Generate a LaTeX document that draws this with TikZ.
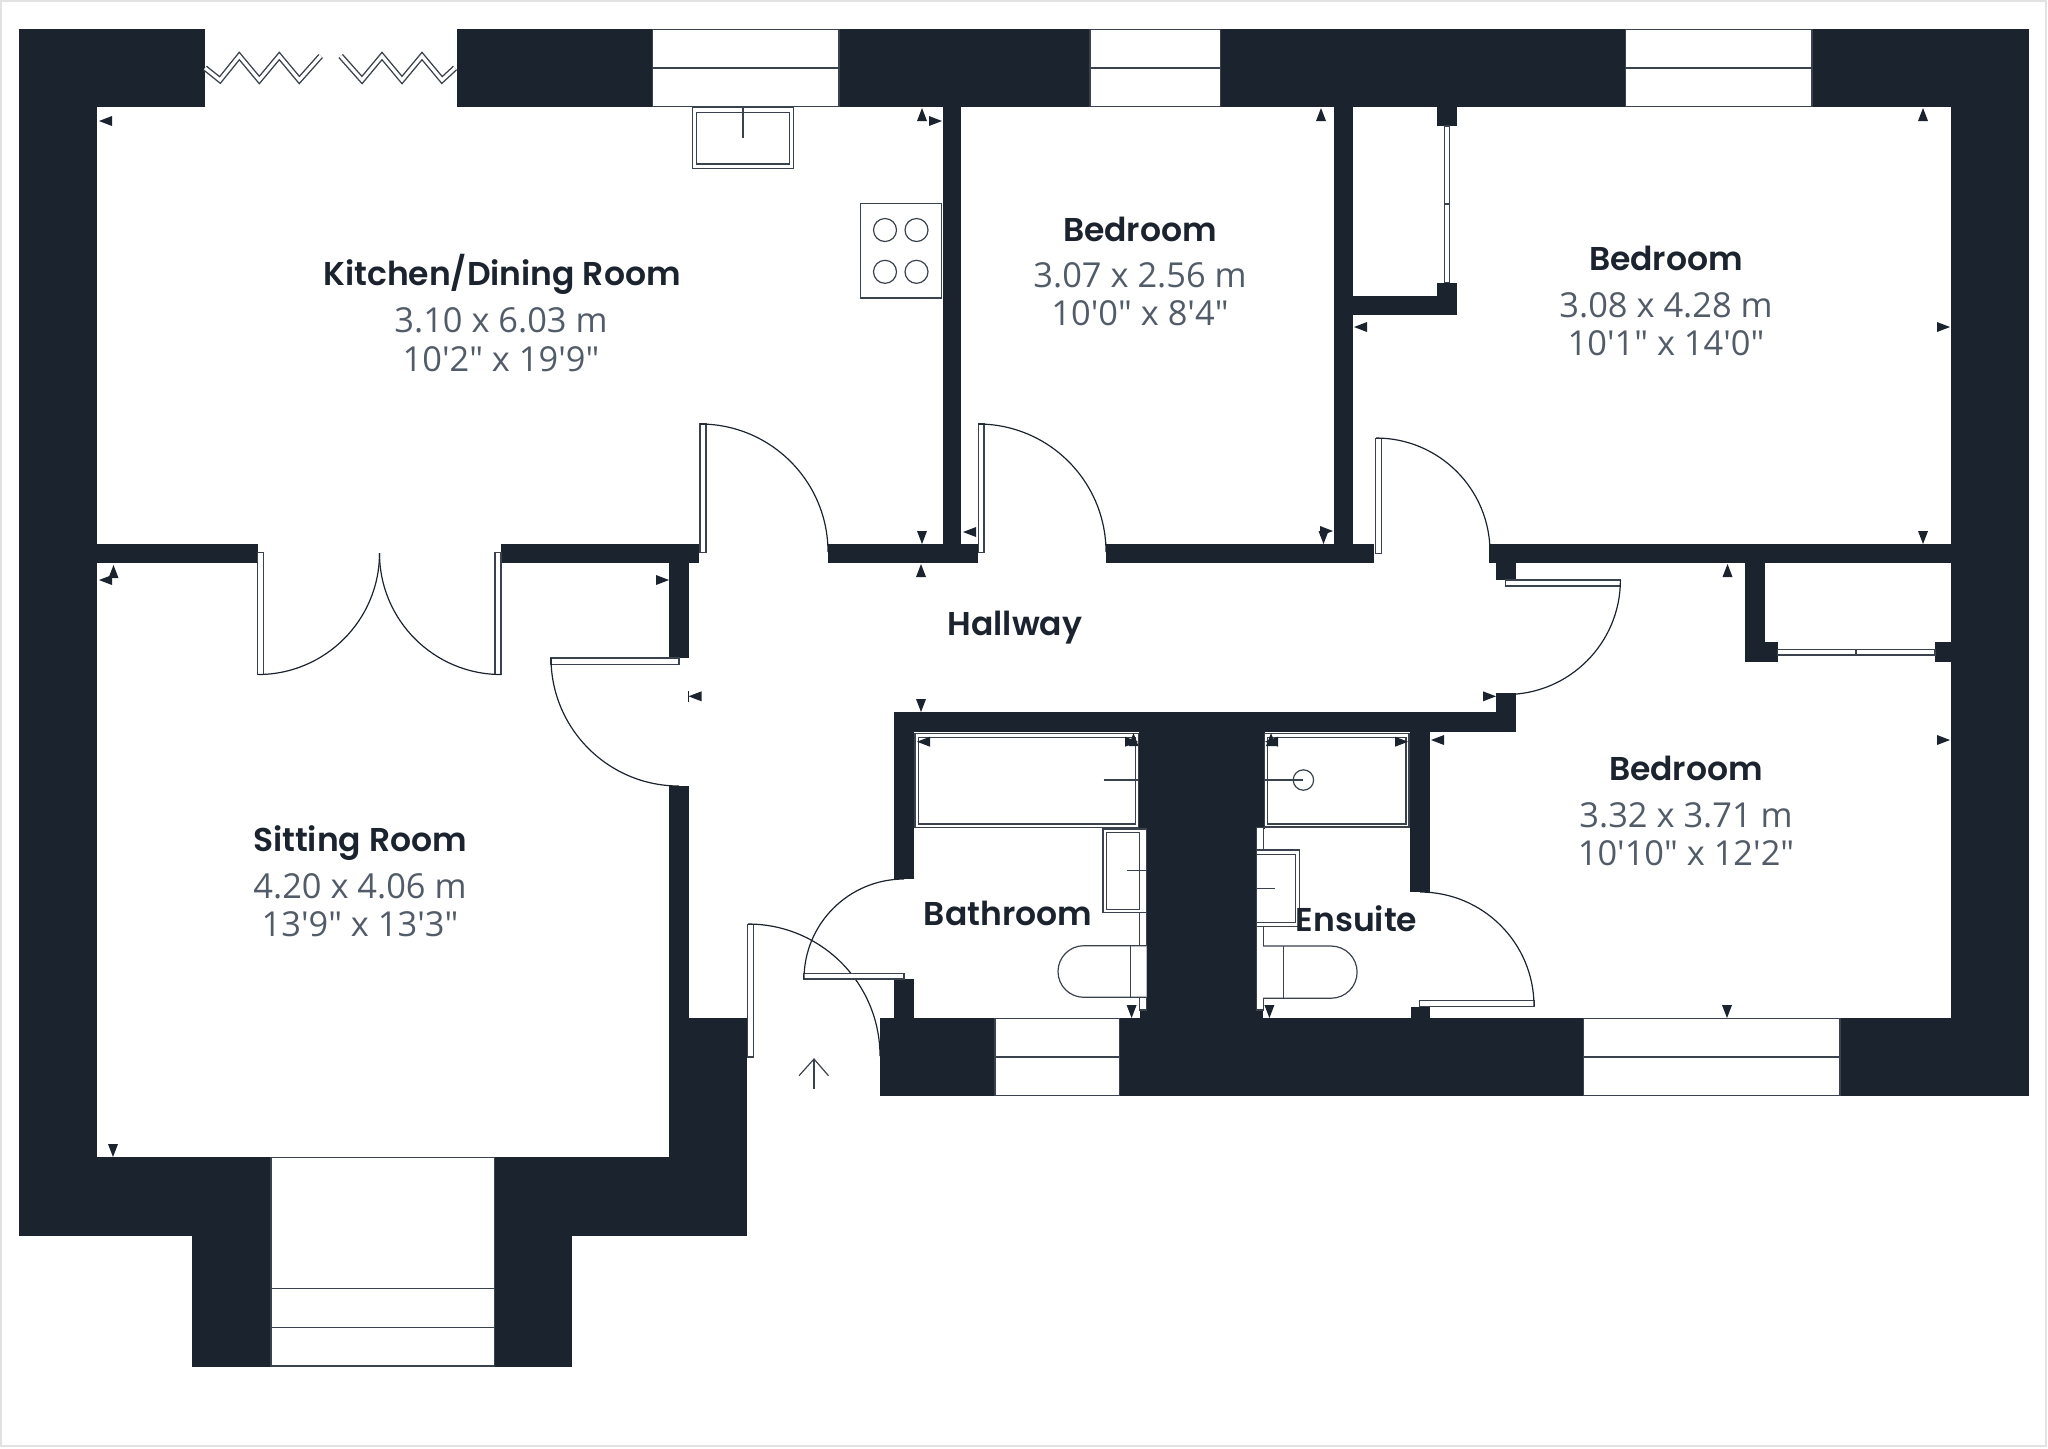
\documentclass[tikz,border=0pt]{standalone}
\usepackage{fontspec}
\usepackage{tikz}
\newfontfamily\namefont[BoldFont=Poppins SemiBold]{Poppins}
\newfontfamily\sizefont{Open Sans}
\definecolor{wallink}{HTML}{1B232E}
\definecolor{sizeink}{HTML}{525C69}
\definecolor{lineink}{HTML}{3A424D}
\definecolor{frameink}{HTML}{E2E2E2}
\newcommand{\tri}[3]{\fill[wallink, shift={(#1,#2)}, rotate=#3] (0,0) -- (13,5) -- (13,-5) -- cycle;}

\begin{document}
\begin{tikzpicture}[x=0.5pt,y=-0.5pt]
    \tikzstyle{wall}=[fill=wallink]
    \tikzstyle{fitting}=[draw=lineink, line width=0.6pt, fill=white]
    \tikzstyle{bare}=[draw=lineink, line width=0.6pt]
    \tikzstyle{glass}=[draw=lineink, line width=0.55pt, fill=white]
    \tikzstyle{swing}=[draw=wallink, line width=0.6pt]
    \tikzstyle{folding}=[draw=lineink, line width=0.7pt, double=white, double distance=1.6pt]
    \tikzstyle{roomname}=[text=wallink, font=\namefont\bfseries\fontsize{16.5}{20}\selectfont, inner sep=0pt, text height=12.1pt, text depth=0pt]
    \tikzstyle{roomsize}=[text=sizeink, font=\sizefont\fontsize{17.2}{20}\selectfont, inner sep=0pt]
    \useasboundingbox (0,0) rectangle (2048,1448);
    \draw[frameink, line width=0.8pt] (1,1) rectangle (2046,1446);

    \fill[wall] (19,29) rectangle (205,107);
    \fill[wall] (456.6,29) rectangle (652.4,107);
    \fill[wall] (839,29) rectangle (1090,107);
    \fill[wall] (1220.6,29) rectangle (1625.7,107);
    \fill[wall] (1812,29) rectangle (2029,107);
    \fill[wall] (1950.5,29) rectangle (2029,1096);
    \fill[wall] (19,29) rectangle (97,1236);
    \fill[wall] (19,1157) rectangle (271,1236);
    \fill[wall] (494.4,1157) rectangle (747.4,1236);
    \fill[wall] (192.3,1157) rectangle (271,1366.7);
    \fill[wall] (494.4,1157) rectangle (572.4,1366.7);
    \fill[wall] (669.4,1018) rectangle (747.4,1236);
    \fill[wall] (669.4,563) rectangle (688.8,658);
    \fill[wall] (669.4,786) rectangle (688.8,1018);
    \fill[wall] (97,543.5) rectangle (257.6,563);
    \fill[wall] (500.5,543.5) rectangle (699,563);
    \fill[wall] (828,543.5) rectangle (978,563);
    \fill[wall] (1106.4,543.5) rectangle (1374.3,563);
    \fill[wall] (1489,543.5) rectangle (1950.5,563);
    \fill[wall] (942.6,107) rectangle (961,543.5);
    \fill[wall] (1333.5,107) rectangle (1353,543.5);
    \fill[wall] (1437,107) rectangle (1456.6,126);
    \fill[wall] (1437,282.5) rectangle (1456.6,314.7);
    \fill[wall] (1353,295.6) rectangle (1456.6,314.7);
    \fill[wall] (1495.8,563) rectangle (1515.6,580);
    \fill[wall] (1745.4,563) rectangle (1765.3,662);
    \fill[wall] (1745.4,642.3) rectangle (1777.5,662);
    \fill[wall] (1935,642.3) rectangle (1950.5,662);
    \fill[wall] (893.5,712.3) rectangle (1516,732.3);
    \fill[wall] (1495.8,693.3) rectangle (1515.6,732.3);
    \fill[wall] (893.5,712.3) rectangle (913.8,879.3);
    \fill[wall] (893.5,979.3) rectangle (913.8,1018);
    \fill[wall] (1138.5,712.3) rectangle (1264.5,829);
    \fill[wall] (1146.5,829) rectangle (1256.5,1018);
    \fill[wall] (1139.6,1010) rectangle (1146.5,1018);
    \fill[wall] (1256.5,1010) rectangle (1263.2,1018);
    \fill[wall] (1409.5,712.3) rectangle (1430.2,892.3);
    \fill[wall] (1410.6,1006.7) rectangle (1430.2,1018);
    \fill[wall] (880,1018) rectangle (995,1096);
    \fill[wall] (1119.7,1018) rectangle (1583.3,1096);
    \fill[wall] (1840,1018) rectangle (2029,1096);

    \draw[glass] (652.4,29.5) rectangle (839,106.5);
    \draw[bare] (652.4,68) -- (839,68);
    \draw[glass] (1090,29.5) rectangle (1220.6,106.5);
    \draw[bare] (1090,68) -- (1220.6,68);
    \draw[glass] (1625.7,29.5) rectangle (1812,106.5);
    \draw[bare] (1625.7,68) -- (1812,68);
    \draw[glass] (995,1018.5) rectangle (1119.7,1095.5);
    \draw[bare] (995,1057) -- (1119.7,1057);
    \draw[glass] (1583.3,1018.5) rectangle (1840,1095.5);
    \draw[bare] (1583.3,1057) -- (1840,1057);
    \draw[glass] (271,1157.5) rectangle (494.4,1366);
    \draw[bare] (271,1288.7) -- (494.4,1288.7);
    \draw[bare] (271,1327.3) -- (494.4,1327.3);

    \draw[folding] (205,68) -- (220,80) -- (239.3,56) -- (259.3,80) -- (279.3,56) -- (299.3,80) -- (320.7,56);
    \draw[folding] (340.7,56) -- (362,80) -- (382,56) -- (402,80) -- (422,56) -- (442,80) -- (455,68);

    \draw[fitting] (692.6,107.5) rectangle (793.4,168.3);
    \draw[fitting] (696.4,112.7) rectangle (789.5,163.9);
    \draw[bare] (743,107.5) -- (743,138);
    \draw[fitting] (860.3,203.6) rectangle (941.5,298);
    \draw[bare] (885,230) circle (11.5);
    \draw[bare] (916.5,230) circle (11.5);
    \draw[bare] (885,271.8) circle (11.5);
    \draw[bare] (916.5,271.8) circle (11.5);

    \draw[glass] (1444.5,126) rectangle (1449.9,282.5);
    \draw[bare] (1444.5,204) -- (1449.9,204);
    \draw[glass] (1777.5,649.7) rectangle (1935,655);
    \draw[bare] (1856,649.7) -- (1856,655);

    \draw[fitting] (915,733.3) rectangle (1138.5,827.3);
    \draw[fitting] (918.8,737.3) rectangle (1135.4,824);
    \draw[bare] (1103.6,780) -- (1138.5,780);
    \draw[fitting] (1139.6,829) rectangle (1146.5,1010);
    \draw[fitting] (1103,829) rectangle (1146.5,912.7);
    \draw[fitting] (1106.3,832.7) rectangle (1139.6,909.3);
    \draw[bare] (1127,870.7) -- (1146.5,870.7);
    \draw[fitting] (1146.5,945.7) -- (1083.8,945.7) arc[start angle=-90, end angle=-270, radius=25.8] -- (1146.5,997.3);
    \draw[bare] (1130.8,945.7) -- (1130.8,997.3);

    \draw[fitting] (1264.2,733.3) rectangle (1409,827);
    \draw[fitting] (1267.3,737.3) rectangle (1406,824);
    \draw[bare] (1303.4,780) circle (10.2);
    \draw[bare] (1264.2,780) -- (1303.4,780);
    \draw[fitting] (1256.5,827.7) rectangle (1263.2,1010);
    \draw[fitting] (1256.5,850) rectangle (1299.3,926.7);
    \draw[fitting] (1256.5,854.3) rectangle (1295.7,922.7);
    \draw[bare] (1256.5,888.3) -- (1275,888.3);
    \draw[fitting] (1263.2,946) -- (1331,946) arc[start angle=-90, end angle=90, radius=26.1] -- (1263.2,998.2);
    \draw[bare] (1283.8,946) -- (1283.8,998.2);

    \draw[fitting] (700,424) rectangle (706,552.7);
    \draw[swing] (700,424) arc[start angle=-90, end angle=0, radius=128];
    \draw[fitting] (978.3,424) rectangle (984,552.7);
    \draw[swing] (978,424) arc[start angle=-90, end angle=0, radius=128];
    \draw[fitting] (1375.7,438.3) rectangle (1381.5,553.3);
    \draw[swing] (1376,438) arc[start angle=-90, end angle=0, radius=114];
    \draw[fitting] (1505.7,580) rectangle (1620.4,586);
    \draw[swing] (1620.4,580) arc[start angle=0, end angle=90, radius=114.5];
    \draw[fitting] (551,658) rectangle (679,664.3);
    \draw[swing] (551,658) arc[start angle=180, end angle=90, radius=128];
    \draw[fitting] (257.6,552.7) rectangle (263.3,674.3);
    \draw[swing] (258,674.5) arc[start angle=90, end angle=0, radius=121.5];
    \draw[fitting] (495,552.7) rectangle (501,674.3);
    \draw[swing] (501,674.5) arc[start angle=90, end angle=180, radius=121.5];
    \draw[fitting] (747.7,924.3) rectangle (753.5,1057);
    \draw[swing] (748,924) arc[start angle=-90, end angle=0, radius=132];
    \draw[fitting] (803.6,973.3) rectangle (903.9,979);
    \draw[swing] (804,979) arc[start angle=180, end angle=270, radius=100];
    \draw[fitting] (1419.4,1000.3) rectangle (1534.3,1006.3);
    \draw[swing] (1534,1006) arc[start angle=0, end angle=-90, radius=114];

    \draw[bare] (814,1089) -- (814,1059);
    \draw[bare] (799,1075.7) -- (814,1059) -- (828.5,1075.7);

    \tri{99}{121}{0}
    \tri{922}{108}{270}
    \tri{942}{121}{180}
    \tri{922}{544}{90}
    \tri{921}{564}{270}
    \tri{963}{532}{0}
    \tri{99}{580}{0}
    \tri{113.5}{565}{270}
    \tri{669}{580}{180}
    \tri{1321}{108}{270}
    \tri{1923}{108}{270}
    \tri{1354}{327}{0}
    \tri{1950}{327}{180}
    \tri{1323.5}{544}{90}
    \tri{1333}{531}{180}
    \tri{1923}{544}{90}
    \tri{1727.5}{564}{270}
    \tri{688.5}{696.3}{0}
    \draw[wallink, line width=0.5pt] (688,691) -- (688,701.5);
    \tri{921}{712}{90}
    \tri{917}{741.7}{0}
    \tri{1133.5}{733}{270}
    \tri{1138}{741.7}{180}
    \tri{1265}{741.7}{0}
    \tri{1271}{733}{270}
    \tri{1408}{741.7}{180}
    \tri{1131.6}{1018}{90}
    \tri{1269.4}{1018}{90}
    \tri{1431}{740}{0}
    \tri{1950}{740}{180}
    \tri{1727}{1018}{90}
    \tri{1496}{696.3}{180}
    \tri{113}{1157}{90}

    \node[roomname] (kitchenname) at (502,273) {\textbf{Kitchen/Dining Room}};
    \node[roomsize] (kitchensize) at (501,320) {3.10 x 6.03 m};
    \node[roomsize] (kitchenfeet) at (501,359) {10'2" x 19'9"};
    \node[roomname] (secondname) at (1140,229) {\textbf{Bedroom}};
    \node[roomsize] (secondsize) at (1140,275) {3.07 x 2.56 m};
    \node[roomsize] (secondfeet) at (1140,313) {10'0" x 8'4"};
    \node[roomname] (thirdname) at (1666,258) {\textbf{Bedroom}};
    \node[roomsize] (thirdsize) at (1666,305) {3.08 x 4.28 m};
    \node[roomsize] (thirdfeet) at (1666,343) {10'1" x 14'0"};
    \node[roomname] (fourthname) at (1686,768) {\textbf{Bedroom}};
    \node[roomsize] (fourthsize) at (1686,815) {3.32 x 3.71 m};
    \node[roomsize] (fourthfeet) at (1686,853) {10'10" x 12'2"};
    \node[roomname] (sittingname) at (360,839) {\textbf{Sitting Room}};
    \node[roomsize] (sittingsize) at (360,886) {4.20 x 4.06 m};
    \node[roomsize] (sittingfeet) at (360,924) {13'9" x 13'3"};
    \node[roomname] (hallname) at (1015,623) {\textbf{Hallway}};
    \node[roomname] (bathname) at (1008,913) {\textbf{Bathroom}};
    \node[roomname] (ensuitename) at (1356.5,919) {\textbf{Ensuite}};
\end{tikzpicture}
\end{document}
